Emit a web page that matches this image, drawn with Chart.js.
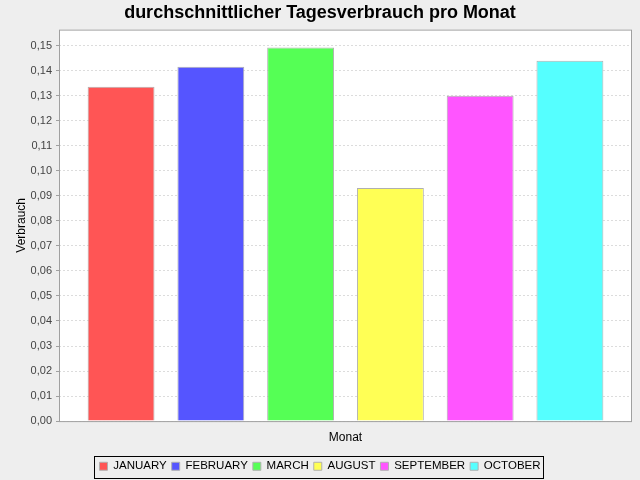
<!DOCTYPE html>
<html>
<head>
<meta charset="utf-8">
<script src="https://cdn.jsdelivr.net/npm/chart.js@4.4.0/dist/chart.umd.min.js"></script>
<style>
  html, body { margin: 0; padding: 0; background: #eeeeee; }
</style>
</head>
<body>
<canvas id="chart" width="640" height="480"></canvas>
<script>
const months = ['JANUARY', 'FEBRUARY', 'MARCH', 'AUGUST', 'SEPTEMBER', 'OCTOBER'];
const verbrauch = [0.1336, 0.1416, 0.1492, 0.0931, 0.1300, 0.1440];
const colors = ['#ff5555', '#5555ff', '#55ff55', '#ffff55', '#ff55ff', '#55ffff'];
const yMax = 0.1564;

const plotFrame = {
    id: 'plotFrame',
    beforeDraw(chart) {
        const { ctx, chartArea: a } = chart;
        ctx.save();
        ctx.fillStyle = '#ffffff';
        ctx.fillRect(a.left, a.top, a.right - a.left, a.bottom - a.top);
        ctx.restore();
    },
    afterDraw(chart) {
        const { ctx, chartArea: a } = chart;
        ctx.save();
        ctx.strokeStyle = '#a0a0a0';
        ctx.lineWidth = 1;
        ctx.strokeRect(a.left + 0.5, a.top + 0.5, a.right - a.left - 1, a.bottom - a.top);
        // legend border
        const hb = chart.legend.legendHitBoxes;
        if (hb && hb.length) {
            const l = Math.min(...hb.map(h => h.left)) - 5;
            const r = Math.max(...hb.map(h => h.left + h.width)) + 3;
            const t = Math.min(...hb.map(h => h.top)) - 5;
            const b = Math.max(...hb.map(h => h.top + h.height)) + 5;
            ctx.strokeStyle = '#000000';
            ctx.strokeRect(Math.round(l) + 0.5, Math.round(t) + 0.5, Math.round(r - l), Math.round(b - t));
        }
        ctx.restore();
    }
};

new Chart(document.getElementById('chart'), {
    type: 'bar',
    data: {
        labels: [''],
        datasets: months.map((m, i) => ({
            label: m,
            data: [verbrauch[i]],
            backgroundColor: colors[i],
            borderColor: '#b0b0b0',
            borderWidth: 1,
            categoryPercentage: 0.94,
            barPercentage: 0.745
        }))
    },
    options: {
        responsive: false,
        animation: false,
        devicePixelRatio: 1,
        layout: { padding: { left: 8, right: 8, top: 2, bottom: -2 } },
        plugins: {
            title: {
                display: true,
                text: 'durchschnittlicher Tagesverbrauch pro Monat',
                color: '#000000',
                font: { family: 'Liberation Sans, Arial, sans-serif', size: 18, weight: 'bold' },
                padding: { top: 0, bottom: 6 }
            },
            legend: {
                position: 'bottom',
                labels: {
                    color: '#000000',
                    boxWidth: 8,
                    boxHeight: 8,
                    padding: 5,
                    font: { family: 'Liberation Sans, Arial, sans-serif', size: 11.5 }
                }
            },
            tooltip: { enabled: false }
        },
        scales: {
            x: {
                grid: { display: false },
                border: { display: false },
                ticks: { display: false },
                title: {
                    display: true,
                    text: 'Monat',
                    color: '#000000',
                    font: { family: 'Liberation Sans, Arial, sans-serif', size: 12 },
                    padding: { top: 1, bottom: 11 }
                }
            },
            y: {
                min: 0,
                max: yMax,
                afterBuildTicks(scale) {
                    scale.ticks = scale.ticks.filter(t => Math.abs(t.value * 100 - Math.round(t.value * 100)) < 1e-6);
                },
                afterFit(scale) { scale.width = 51; },
                ticks: {
                    stepSize: 0.01,
                    color: '#444444',
                    padding: 4,
                    font: { family: 'Liberation Sans, Arial, sans-serif', size: 11 },
                    callback: v => v.toFixed(2).replace('.', ',')
                },
                grid: {
                    color: '#dcdcdc',
                    tickLength: 3,
                    tickColor: '#a0a0a0',
                    drawOnChartArea: true
                },
                border: { display: false, dash: [2, 2] },
                title: {
                    display: true,
                    text: 'Verbrauch',
                    color: '#000000',
                    font: { family: 'Liberation Sans, Arial, sans-serif', size: 12 },
                    padding: { top: 6, bottom: 2 }
                }
            }
        }
    },
    plugins: [plotFrame]
});
</script>
</body>
</html>
